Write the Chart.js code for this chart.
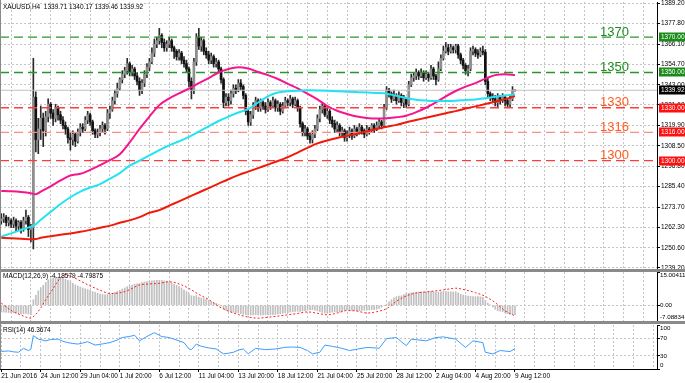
<!DOCTYPE html>
<html>
<head>
<meta charset="utf-8">
<script src="https://cdn.jsdelivr.net/npm/chart.js@4.4.1/dist/chart.umd.min.js"></script>
<style>
  html, body { margin: 0; padding: 0; background: #fff; }
  #wrap { position: relative; width: 685px; height: 383px; overflow: hidden; background: #fff; }
  #wrap canvas { position: absolute; left: 0; }
  .sep { position: absolute; left: 0; width: 685px; height: 3px; background: #8a8a8a; }
  .edge { position: absolute; left: 0; top: 0; width: 1px; height: 369px; background: #8a8a8a; }
</style>
</head>
<body>
<div id="wrap">
  <canvas id="cMain" width="685" height="270" style="top:0"></canvas>
  <canvas id="cMacd" width="685" height="49" style="top:272px"></canvas>
  <canvas id="cRsi" width="685" height="59" style="top:324px"></canvas>
  <div class="sep" style="top:269px"></div>
  <div class="sep" style="top:321px"></div>
  <div class="edge"></div>
</div>
<script>
// ---------- data (XAUUSD H4, 21 Jun 20:00 .. 9 Aug 12:00) ----------
const dateLabels = ['21 Jun 2016', '24 Jun 12:00', '29 Jun 04:00', '1 Jul 20:00', '6 Jul 12:00', '11 Jul 04:00',
  '13 Jul 20:00', '18 Jul 12:00', '21 Jul 04:00', '25 Jul 20:00', '28 Jul 12:00', '2 Aug 04:00', '4 Aug 20:00', '9 Aug 12:00'];
const priceTicks = [1389.20, 1377.80, 1366.10, 1354.70, 1343.00, 1331.60, 1319.90, 1308.50, 1296.80, 1285.40, 1273.70, 1262.30, 1250.60, 1239.20];
const macdTicks = [15.00411, 0, -7.08834];
const rsiTicks = [100, 70, 30, 0];
const levels = [1370, 1350, 1330, 1316, 1300];
const lastPrice = 1339.92;
const firstOpen = 1266;

const closes = [
  1267, 1268, 1265, 1266, 1264, 1266, 1263, 1265, 1262, 1266, 1268, 1261, 1262,
  1336, 1312, 1318, 1324, 1317, 1325, 1332, 1327, 1324, 1330, 1326, 1323,
  1320, 1318, 1313, 1312, 1315, 1311, 1316, 1319, 1318, 1323, 1326, 1322, 1317, 1315, 1316, 1318, 1320, 1318, 1327, 1329, 1334, 1338, 1341, 1346, 1349, 1351, 1355,
  1350, 1352, 1348, 1345, 1340, 1344, 1349, 1353, 1356, 1361, 1366, 1368, 1371, 1367, 1364, 1366, 1368, 1364, 1362, 1359, 1361, 1357, 1355, 1352, 1345, 1340,
  1356, 1370, 1365, 1368, 1362, 1360, 1357, 1359, 1355, 1356, 1352, 1346, 1333, 1336, 1334, 1338, 1341, 1340, 1344, 1342, 1337, 1328, 1322, 1326, 1331, 1334, 1330,
  1333, 1331, 1329, 1333, 1331, 1334, 1330, 1332, 1328, 1331, 1334, 1333, 1335, 1332, 1334, 1330, 1321, 1316, 1318, 1314, 1312, 1315, 1318, 1324, 1329, 1331,
  1326, 1328, 1323, 1321, 1318, 1320, 1316, 1317, 1313, 1315, 1317, 1314, 1318, 1316, 1319, 1317, 1315, 1318, 1317, 1320, 1318, 1320, 1322, 1320, 1330, 1340,
  1338, 1335, 1337, 1334, 1337, 1333, 1335, 1332, 1343, 1347, 1348, 1350, 1348, 1350, 1347, 1349, 1347, 1352, 1348, 1346, 1352, 1358, 1362, 1364, 1362, 1364,
  1363, 1365, 1360, 1357, 1354, 1351, 1352, 1362, 1363, 1361, 1360, 1362, 1361.5, 1345, 1338, 1336, 1335, 1333, 1336, 1334, 1336, 1334, 1332, 1335, 1339.71, 1339.92
];
const highs = [
  1270, 1270, 1269, 1268, 1267, 1268, 1267, 1266, 1266, 1268, 1272, 1269, 1264,
  1358, 1339, 1324, 1331, 1327, 1328, 1335, 1333, 1329, 1332, 1331, 1328,
  1325, 1322, 1319, 1316, 1317, 1316, 1318, 1321, 1321, 1325, 1328, 1327, 1323, 1318, 1318, 1320, 1322, 1321, 1329, 1331, 1336, 1340, 1344, 1347, 1351, 1353, 1358,
  1356, 1354, 1353, 1350, 1347, 1346, 1351, 1355, 1358, 1364, 1369, 1370, 1375, 1372, 1369, 1368, 1370, 1369, 1365, 1363, 1363, 1362, 1359, 1357, 1353, 1347,
  1358, 1372, 1375, 1370, 1369, 1364, 1362, 1361, 1360, 1358, 1357, 1353, 1347, 1338, 1338, 1340, 1343, 1343, 1346, 1346, 1343, 1338, 1329, 1328, 1333, 1336, 1335,
  1335, 1334, 1333, 1335, 1334, 1336, 1335, 1334, 1333, 1333, 1336, 1335, 1337, 1336, 1336, 1335, 1331, 1322, 1320, 1319, 1316, 1317, 1320, 1326, 1331, 1333,
  1332, 1330, 1329, 1325, 1323, 1322, 1321, 1319, 1318, 1317, 1319, 1318, 1320, 1319, 1321, 1320, 1318, 1320, 1319, 1321, 1321, 1322, 1324, 1323, 1332, 1342,
  1341, 1339, 1340, 1338, 1339, 1338, 1337, 1336, 1345, 1349, 1350, 1352, 1351, 1352, 1351, 1351, 1350, 1354, 1353, 1349, 1356, 1360, 1365, 1367, 1366, 1366,
  1365, 1366, 1366, 1361, 1358, 1355, 1354, 1364, 1365, 1364, 1363, 1364, 1365, 1363, 1347, 1339, 1338, 1337, 1338, 1337, 1338, 1337, 1335, 1337, 1342, 1340.17
];
const lows = [
  1264, 1265, 1263, 1263, 1262, 1262, 1260, 1261, 1259, 1260, 1264, 1257, 1254,
  1250, 1305, 1304, 1312, 1308, 1314, 1322, 1324, 1320, 1322, 1323, 1321,
  1318, 1315, 1310, 1306, 1309, 1308, 1310, 1314, 1316, 1317, 1321, 1320, 1315, 1313, 1313, 1314, 1316, 1315, 1317, 1324, 1328, 1332, 1336, 1340, 1344, 1347, 1349,
  1348, 1348, 1346, 1343, 1337, 1338, 1342, 1347, 1351, 1355, 1359, 1364, 1366, 1364, 1362, 1362, 1364, 1362, 1358, 1357, 1357, 1355, 1353, 1350, 1342, 1335,
  1338, 1354, 1363, 1362, 1360, 1358, 1355, 1355, 1353, 1353, 1350, 1344, 1330, 1331, 1331, 1332, 1336, 1338, 1339, 1340, 1335, 1326, 1320, 1320, 1324, 1329, 1328,
  1328, 1329, 1327, 1328, 1329, 1330, 1328, 1328, 1326, 1327, 1330, 1331, 1331, 1330, 1331, 1328, 1319, 1314, 1314, 1312, 1310, 1310, 1313, 1317, 1322, 1327,
  1325, 1324, 1321, 1319, 1316, 1316, 1314, 1314, 1311, 1311, 1313, 1312, 1313, 1314, 1315, 1315, 1313, 1314, 1315, 1316, 1316, 1317, 1318, 1318, 1319, 1329,
  1336, 1333, 1334, 1332, 1333, 1331, 1330, 1330, 1331, 1342, 1345, 1346, 1346, 1347, 1345, 1346, 1345, 1346, 1346, 1343, 1345, 1351, 1357, 1361, 1360, 1361,
  1361, 1361, 1358, 1355, 1352, 1349, 1348, 1351, 1360, 1359, 1358, 1359, 1360, 1343, 1336, 1334, 1333, 1331, 1330, 1332, 1333, 1331, 1330, 1330, 1334, 1339.46
];

// moving averages, read every 4th bar
const maIdx = [0, 4, 8, 12, 14, 16, 20, 24, 28, 32, 36, 40, 44, 48, 52, 56, 60, 64, 68, 72, 76, 80, 84, 88, 92, 96, 100,
  104, 108, 112, 116, 120, 124, 128, 132, 136, 140, 144, 148, 152, 156, 160, 164, 168, 172, 176, 180, 184, 188, 192, 196, 200, 204, 208];
const maPink = [1282.9, 1282.7, 1282.3, 1281.6, 1281.0, 1282.5, 1285.5, 1288.8, 1291.6, 1292.6, 1294.8, 1297.5, 1300.3, 1303.7,
  1310.4, 1318, 1325, 1331.5, 1335.3, 1338.2, 1340.8, 1344, 1346.8, 1350, 1352, 1353, 1352.2, 1350.3, 1348.5, 1346.3, 1343.5,
  1341, 1338, 1334.8, 1331, 1328.3, 1326.5, 1325, 1324.2, 1323.9, 1324.1, 1324.6, 1325.5, 1327.5, 1330, 1333, 1336.5, 1339.5,
  1342, 1344, 1346.5, 1348.5, 1349, 1348.5];
const maCyan = [1257, 1258.8, 1260.7, 1262.6, 1264, 1266.5, 1271, 1275.5, 1279.3, 1282.5, 1284.8, 1286.7, 1289.8, 1293,
  1297.2, 1300, 1303, 1306, 1308.7, 1311, 1313.5, 1316.5, 1319.5, 1322.5, 1325, 1327.3, 1329.2, 1333, 1336.5, 1338.6, 1339.3,
  1339.7, 1339.9, 1339.8, 1339.6, 1339.3, 1339.1, 1338.9, 1338.7, 1338.4, 1338, 1336.8, 1335.5, 1334.6, 1334.1, 1333.8, 1333.8,
  1334, 1334.4, 1334.7, 1335.4, 1336.2, 1336.9, 1337.5];
const maRed = [1256.3, 1256.0, 1255.8, 1255.5, 1255.6, 1256.3, 1257.2, 1258, 1258.8, 1259.7, 1260.8, 1262, 1263.2, 1264.8,
  1266.2, 1268, 1270.5, 1272, 1274.5, 1277, 1279.5, 1282, 1284.5, 1287, 1289.5, 1291.8, 1293.8, 1295.8, 1297.8, 1299.8, 1302,
  1304.6, 1307.3, 1309.8, 1311.5, 1312.9, 1314.1, 1315.3, 1316.6, 1318, 1319.2, 1320.3, 1321.8, 1323.1, 1324.3, 1325.6, 1326.9,
  1328.1, 1329.5, 1330.8, 1332.1, 1333.5, 1334.9, 1336.6];

// MACD(12,26,9): histogram per bar, signal read every few bars
const macdHist = [
  -3.0, -3.1, -3.2, -3.3, -3.4, -3.4, -3.6, -3.7, -3.9, -3.8, -3.7, -4.0, -4.2,
  2.5, 4.5, 6.5, 8.0, 9.0, 10.3, 11.5, 12.0, 12.3, 12.6, 12.6, 12.4, 12.1, 11.7, 11.2, 10.6, 9.9,
  9.2, 8.7, 8.2, 7.8, 7.4, 7.1, 6.7, 6.2, 5.8, 5.4, 5.1, 4.9, 4.7, 4.8, 5.0, 5.3, 5.8, 6.3, 6.8, 7.3, 7.8, 8.4, 8.7, 9.1,
  9.5, 9.7, 9.8, 10.2, 10.5, 10.7, 10.9, 11.0, 11.2, 11.2, 11.3, 11.2, 11.0, 10.9, 10.5, 10.0, 9.5, 9.0, 8.4, 7.8, 7.0, 6.2, 5.2, 4.3,
  4.2, 4.4, 3.6, 3.3, 3.0, 2.6, 2.0, 1.7, 1.3, 0.9, 0.4, -0.3, -1.6, -2.2, -2.7, -3.0, -3.1, -3.3, -3.5, -3.7, -4.0, -4.3,
  -4.4, -4.4, -4.3, -4.3, -4.4, -4.4, -4.3, -4.3, -4.3, -4.3, -4.2, -4.1, -3.9, -3.8, -3.6, -3.5, -3.3, -3.1, -3.0, -2.8,
  -2.7, -2.8, -2.6, -2.4, -2.2, -2.1, -2.0, -2.2, -2.5, -2.9,
  -3.2, -3.5, -3.4, -3.3, -3.1, -3.0, -3.0, -3.0, -2.7, -2.4, -2.0, -2.2, -2.3, -2.4, -2.5, -2.4, -2.3, -2.2, -2.2, -2.1,
  -2.0, -2.0, -1.8, -1.4, -0.8, -0.2, 0.6, 1.5, 2.5, 3.4,
  3.9, 4.1, 4.3, 4.8, 5.2, 5.4, 5.6, 5.8, 5.9, 6.0, 6.1, 6.1, 6.2, 6.1, 6.2, 6.1, 6.0, 6.0, 6.1, 6.2, 6.2, 6.1, 6.1, 6.0, 6.1,
  5.6, 4.9, 4.6, 4.4, 4.1, 4.0, 3.9, 3.9, 3.9, 3.8, 3.6, 2.2, 1.0, 0.2, -0.8, -1.8, -2.4, -2.7, -2.9, -3.4, -3.8, -4.0, -4.1, -4.18579
];
const sigIdx = [0, 4, 8, 12, 14, 16, 18, 20, 24, 26, 28, 32, 36, 40, 44, 48, 52, 56, 60, 64, 68, 72, 76, 80, 84, 88, 92, 96,
  100, 104, 108, 112, 116, 120, 124, 128, 132, 136, 140, 144, 148, 152, 156, 160, 164, 168, 172, 176, 180, 184, 188, 192, 196, 200, 204, 208];
const sigVal = [1.0, -2.3, -4.4, -5.8, -4.0, -1.2, 2.5, 5.8, 12.3, 13.7, 13.2, 11.0, 8.7, 6.8, 5.3, 5.6, 7.0, 9.2, 9.6, 9.9,
  10.6, 9.6, 7.6, 4.9, 2.6, -0.5, -2.6, -4.2, -5.3, -5.8, -5.4, -4.9, -4.3, -3.7, -3.0, -3.6, -4.3, -3.5, -2.4, -2.6, -3.5,
  -2.9, -1.5, 1.8, 4.2, 5.5, 6.0, 6.5, 7.1, 7.7, 6.9, 5.7, 4.0, 1.2, -2.5, -4.79875];

// RSI(14)
const rsiIdx = [0, 3, 5, 7, 9, 11, 12, 13, 15, 18, 20, 23, 25, 27, 29, 31, 33, 35, 38, 41, 44, 47, 49, 52, 54, 56, 59, 62, 65, 68,
  72, 74, 76, 77, 79, 81, 84, 87, 90, 92, 94, 96, 98, 100, 103, 107, 111, 115, 118, 121, 124, 126, 129, 131, 134, 138, 141, 144,
  148, 151, 153, 156, 160, 162, 164, 166, 172, 176, 179, 184, 188, 191, 195, 196, 199, 202, 206, 208];
const rsiVal = [40, 41, 39, 38, 47, 42, 45, 76, 68, 64, 67, 68, 63, 60, 58, 56.7, 59, 62, 54.4, 57, 60, 66, 71.5, 74, 76.7, 64,
  74, 82.6, 73.7, 71.5, 64, 60, 45.5, 44, 56.7, 51.5, 48, 45.5, 34.4, 36, 38, 43, 45.5, 34.4, 47, 44, 45.5, 49.3, 50, 49, 42,
  34.4, 38, 54.4, 51.5, 47, 42, 45, 49, 48, 47, 69, 71.5, 62, 53, 67.8, 64, 71.5, 73, 67.8, 49, 64, 60, 38, 34.4, 42, 39.6, 46.3674];

// ---------- common setup ----------
const X_MIN = -0.5;
const X_MAX = 265.5;
const AXIS_W = 28;
const FONT = '"Liberation Sans", Arial, sans-serif';
const GRID = '#c4c4c4';

const opens = closes.map((c, i) => i === 0 ? firstOpen : closes[i - 1]);
const pts = (idx, vals) => idx.map((x, k) => ({ x: x, y: vals[k] }));

function xAxis(showLabels) {
    return {
        type: 'linear',
        min: X_MIN,
        max: X_MAX,
        offset: false,
        afterBuildTicks: ax => {
            ax.ticks = [];
            for (let v = 0; v <= 264; v += 8) ax.ticks.push({ value: v });
        },
        afterFit: ax => {
            ax.height = showLabels ? 14 : 0;
            ax.paddingLeft = 0;
            ax.paddingRight = 0;
        },
        grid: {
            color: GRID,
            drawTicks: showLabels,
            tickLength: 3,
            tickColor: ctx => (ctx.tick && ctx.tick.value % 16 === 0 && ctx.tick.value <= 208) ? '#000' : 'rgba(0,0,0,0)',
            tickBorderDash: []
        },
        border: { display: showLabels, color: '#000', dash: [2, 2] },
        ticks: {
            display: showLabels,
            autoSkip: false,
            maxRotation: 0,
            align: 'start',
            padding: 0,
            color: '#000',
            font: { family: FONT, size: 6.5 },
            callback: v => (v % 16 === 0 && v / 16 < dateLabels.length) ? dateLabels[v / 16] : ''
        }
    };
}

function yAxis(min, max, tickVals, showLabels, gridFilter) {
    return {
        position: 'right',
        min: min,
        max: max,
        afterBuildTicks: ax => { ax.ticks = tickVals.map(v => ({ value: v })); },
        afterFit: ax => {
            ax.width = AXIS_W;
            ax.paddingTop = 0;
            ax.paddingBottom = 0;
        },
        grid: {
            color: ctx => (!gridFilter || (ctx.tick && gridFilter(ctx.tick.value))) ? GRID : 'rgba(0,0,0,0)',
            tickLength: 3,
            tickColor: '#000',
            tickBorderDash: []
        },
        border: { color: '#000', dash: [2, 2] },
        ticks: {
            display: showLabels,
            autoSkip: false,
            padding: 1,
            color: '#000',
            font: { family: FONT, size: 6.5 },
            callback: v => v.toFixed(2)
        }
    };
}

const baseOptions = (padTop) => ({
    responsive: false,
    animation: false,
    events: [],
    layout: { padding: { top: padTop, bottom: 0, left: 0, right: 0 } },
    plugins: { legend: { display: false }, tooltip: { enabled: false } }
});

// ---------- main panel decorations ----------
const levelColors = ['#2a962a', '#2a962a', '#ff3c3c', '#ff8c80', '#ff3c3c'];
const levelTextColors = ['#1e8c1e', '#1e8c1e', '#ff5a1e', '#ff5a1e', '#ff5a1e'];
const levelBadgeColors = ['#1a8a1a', '#1a8a1a', '#ff1010', '#ff1010', '#ff1010'];

const mainDecor = {
    id: 'mainDecor',
    afterDraw(chart) {
        const { ctx, chartArea, scales } = chart;
        const y = scales.y;
        ctx.save();
        ctx.textBaseline = 'middle';
        ctx.textAlign = 'left';
        ctx.fillStyle = '#000';
        ctx.font = '6.5px ' + FONT;
        ctx.fillText('XAUUSD,H4  1339.71 1340.17 1339.46 1339.92', 3, 7);

        // level captions
        ctx.font = '13px ' + FONT;
        ctx.textAlign = 'right';
        ctx.textBaseline = 'alphabetic';
        levels.forEach((lv, k) => {
            ctx.fillStyle = levelTextColors[k];
            ctx.fillText(String(lv), chartArea.right - 28, y.getPixelForValue(lv) - 1.5);
        });

        // axis badges
        const badge = (val, color) => {
            const py = Math.round(y.getPixelForValue(val));
            ctx.fillStyle = color;
            ctx.fillRect(chartArea.right + 2, py - 4.5, AXIS_W - 2, 9);
            ctx.fillStyle = '#fff';
            ctx.font = '6.5px ' + FONT;
            ctx.textAlign = 'left';
            ctx.textBaseline = 'middle';
            ctx.fillText(val.toFixed(2), chartArea.right + 4, py);
        };
        levels.forEach((lv, k) => badge(lv, levelBadgeColors[k]));
        badge(lastPrice, '#000');
        ctx.restore();
    }
};

function sideLabels(title, titleY, tickVals, fmt) {
    return {
        id: 'sideLabels',
        afterDraw(chart) {
            const { ctx, chartArea, scales } = chart;
            ctx.save();
            ctx.fillStyle = '#000';
            ctx.font = '6.5px ' + FONT;
            ctx.textBaseline = 'middle';
            ctx.textAlign = 'left';
            ctx.fillText(title, 3, titleY);
            ctx.font = '6.2px ' + FONT;
            tickVals.forEach(v => {
                let py = scales.y.getPixelForValue(v);
                py = Math.min(Math.max(py, chartArea.top + 3.5), chartArea.bottom - 3.5);
                ctx.fillText(fmt(v), chartArea.right + 3, py);
            });
            ctx.restore();
        }
    };
}

// ---------- main chart ----------
const levelSets = levels.map((lv, k) => ({
    type: 'line',
    data: [{ x: X_MIN, y: lv }, { x: X_MAX, y: lv }],
    borderColor: levelColors[k],
    borderWidth: 1.3,
    borderDash: [9, 5],
    pointRadius: 0,
    order: 3
}));

new Chart(document.getElementById('cMain'), {
    type: 'line',
    data: {
        datasets: [
            {
                type: 'line',
                data: [{ x: X_MIN, y: lastPrice }, { x: X_MAX, y: lastPrice }],
                borderColor: '#c0c0c0',
                borderWidth: 1,
                pointRadius: 0,
                order: 4
            },
            ...levelSets,
            {
                type: 'bar',
                data: highs.map((h, i) => ({ x: i, y: [lows[i], h] })),
                backgroundColor: '#2a2a2a',
                barThickness: 1,
                grouped: false,
                order: 6
            },
            {
                type: 'bar',
                data: closes.map((c, i) => ({ x: i, y: [opens[i], c] })),
                backgroundColor: closes.map((c, i) => c >= opens[i] ? '#8e8e8e' : '#111'),
                borderWidth: 0,
                barThickness: 2,
                minBarLength: 1,
                grouped: false,
                order: 5
            },
            { type: 'line', data: pts(maIdx, maRed), borderColor: '#f01a0a', borderWidth: 2, pointRadius: 0, cubicInterpolationMode: 'monotone', order: 1 },
            { type: 'line', data: pts(maIdx, maCyan), borderColor: '#22e3f2', borderWidth: 2, pointRadius: 0, cubicInterpolationMode: 'monotone', order: 1 },
            { type: 'line', data: pts(maIdx, maPink), borderColor: '#f5158f', borderWidth: 2, pointRadius: 0, cubicInterpolationMode: 'monotone', order: 1 }
        ]
    },
    options: {
        ...baseOptions(2),
        scales: {
            x: xAxis(false),
            y: yAxis(1238.06, 1389.94, priceTicks, true, null)
        }
    },
    plugins: [mainDecor]
});

// ---------- MACD ----------
new Chart(document.getElementById('cMacd'), {
    type: 'line',
    data: {
        datasets: [
            {
                type: 'bar',
                data: macdHist.map((v, i) => ({ x: i, y: v })),
                backgroundColor: '#c0c0c0',
                barThickness: 1,
                grouped: false,
                order: 2
            },
            {
                type: 'line',
                data: pts(sigIdx, sigVal),
                borderColor: '#ff2020',
                borderWidth: 1,
                borderDash: [2, 2],
                pointRadius: 0,
                cubicInterpolationMode: 'monotone',
                order: 1
            }
        ]
    },
    options: {
        ...baseOptions(0),
        scales: {
            x: xAxis(false),
            y: yAxis(-7.08834, 15.00411, macdTicks, false, v => v === 0)
        }
    },
    plugins: [sideLabels('MACD(12,26,9) -4.18579 -4.79875', 4, macdTicks, v => v === 0 ? '0.00' : v.toFixed(5))]
});

// ---------- RSI ----------
new Chart(document.getElementById('cRsi'), {
    type: 'line',
    data: {
        datasets: [{
            type: 'line',
            data: pts(rsiIdx, rsiVal),
            borderColor: '#3c9cff',
            borderWidth: 1,
            pointRadius: 0,
            order: 1
        }]
    },
    options: {
        ...baseOptions(1),
        scales: {
            x: xAxis(true),
            y: yAxis(0, 100, rsiTicks, false, v => v === 30 || v === 70)
        }
    },
    plugins: [sideLabels('RSI(14) 46.3674', 6, rsiTicks, v => String(v))]
});
</script>
</body>
</html>
